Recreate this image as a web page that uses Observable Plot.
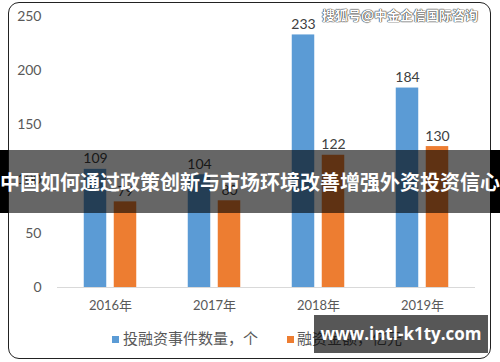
<!DOCTYPE html>
<html><head><meta charset="utf-8">
<script src="https://cdn.jsdelivr.net/npm/d3@7"></script>
<script src="https://cdn.jsdelivr.net/npm/@observablehq/plot@0.6"></script>
<style>
body{margin:0;background:#fff;}
#wrap{position:relative;width:500px;height:362px;overflow:hidden;font-family:Lato,"Noto Sans CJK SC",sans-serif;background:#fff;}
#chart{position:absolute;left:0;top:0;}
#legend{position:absolute;left:0;top:325px;width:500px;height:37px;font-family:"Noto Sans CJK SC",sans-serif;font-size:15px;color:#595959;}
.sw{position:absolute;width:7px;height:7px;top:11px;}
.lt{position:absolute;top:3px;line-height:20px;white-space:nowrap;}
#frame{position:absolute;left:8px;top:2px;width:481px;height:355px;border:1.5px solid #222;border-radius:11px;pointer-events:none;}
#banner{position:absolute;left:0;top:150px;width:500px;height:63px;background:rgba(0,0,0,0.6);color:#fff;font-family:"Noto Sans CJK SC",sans-serif;font-weight:bold;font-size:20px;line-height:63px;text-align:center;white-space:nowrap;letter-spacing:0;}
.edge{position:absolute;top:150px;height:63px;background:#000;}
#wm{position:absolute;left:322px;top:6px;font-family:"Noto Sans CJK SC",sans-serif;font-weight:bold;font-size:13px;line-height:18px;color:#fff;text-shadow:0 0 1px #333,0 0 1px #333,0 0 1px #333;white-space:nowrap;}
#site{position:absolute;left:314px;top:315px;width:174px;height:38px;background:rgba(0,0,0,0.66);color:#fff;font-family:"Open Sans",sans-serif;font-weight:bold;font-size:17px;line-height:38px;text-align:center;white-space:nowrap;}
</style></head><body>
<div id="wrap">
  <div id="chart"></div>
  <div id="legend"></div>
  <div id="frame"></div>
  <div class="edge" style="left:0;width:8px"></div>
  <div class="edge" style="left:490px;width:10px"></div>
  <div id="banner">中国如何通过政策创新与市场环境改善增强外资投资信心</div>
  <div id="wm">搜狐号@中金企信国际咨询</div>
  <div id="site">www.intl-k1ty.com</div>
</div>
<script>
const years = ["2016年", "2017年", "2018年", "2019年"];
const countValues = [109, 104, 233, 184];
const amountValues = [79, 80, 122, 130];
const seriesNames = ["投融资事件数量，个", "融资金额，亿元"];
const seriesColors = ["#5b9bd5", "#ed7d31"];
const yTicks = [0, 50, 100, 150, 200, 250];

const data = years.map((y, i) => ({year: y, count: countValues[i], amount: amountValues[i]}));

const chart = Plot.plot({
  width: 500,
  height: 325,
  marginTop: 16,
  marginBottom: 38,
  marginLeft: 57,
  marginRight: 25,
  style: {fontSize: "13px", fontFamily: "Lato, 'Noto Sans CJK SC', sans-serif", color: "#595959", background: "transparent"},
  x: {domain: years, padding: 0},
  y: {domain: [0, 250]},
  marks: [
    Plot.ruleY([0], {stroke: "#d9d9d9", strokeWidth: 1}),
    Plot.barY(data, {x: "year", y: "count", fill: seriesColors[0], dx: -15, insetLeft: 40.75, insetRight: 40.75}),
    Plot.barY(data, {x: "year", y: "amount", fill: seriesColors[1], dx: 15, insetLeft: 40.75, insetRight: 40.75}),
    Plot.text(data, {x: "year", y: "count", text: d => String(d.count), dx: -15, dy: -6, lineAnchor: "bottom", fill: "#404040", fontSize: 14}),
    Plot.text(data, {x: "year", y: "amount", text: d => String(d.amount), dx: 15, dy: -6, lineAnchor: "bottom", fill: "#404040", fontSize: 14}),
    Plot.axisY({ticks: yTicks, tickSize: 0, tickPadding: 16, label: null, fontSize: 14}),
    Plot.axisX({tickSize: 0, tickPadding: 13, label: null, fontSize: 13})
  ]
});
document.getElementById("chart").appendChild(chart);

const legend = document.getElementById("legend");
const legendPos = [{sw: 112, tx: 123}, {sw: 287, tx: 297}];
seriesNames.forEach((name, i) => {
  const sw = document.createElement("div");
  sw.className = "sw";
  sw.style.left = legendPos[i].sw + "px";
  sw.style.background = seriesColors[i];
  legend.appendChild(sw);
  const t = document.createElement("div");
  t.className = "lt";
  t.style.left = legendPos[i].tx + "px";
  t.textContent = name;
  legend.appendChild(t);
});
</script>
</body></html>
